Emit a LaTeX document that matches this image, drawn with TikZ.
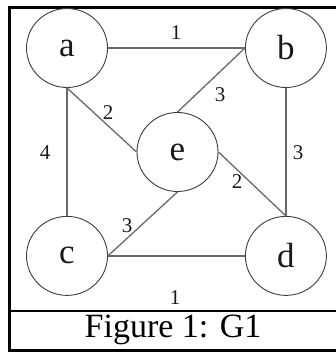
\documentclass[tikz,border=0pt]{standalone}
\usepackage{fontspec}
\setmainfont{Liberation Serif}
\usetikzlibrary{shapes.geometric, positioning}
\definecolor{ringcol}{RGB}{60, 60, 60}
\definecolor{edgecol}{RGB}{105, 105, 105}
\definecolor{textcol}{RGB}{25, 25, 25}
\tikzset{
    vertex/.style={ellipse, draw=ringcol, line width=0.9pt, minimum width=81pt, minimum height=79pt, inner sep=0pt, text=textcol, font=\fontsize{35}{40}\selectfont},
    edge/.style={draw=edgecol, line width=1.3pt},
    weight/.style={text=textcol, inner sep=0pt, font=\fontsize{21}{25}\selectfont},
    framebox/.style={draw=black, line width=2.6pt},
    captext/.style={text=black, inner sep=0pt, font=\fontsize{34}{38}\selectfont}
}

\begin{document}
\begin{tikzpicture}[x=1pt, y=1pt]

    \useasboundingbox (0,0) rectangle (335,352);

    % frame and caption
    \draw [framebox] (336,344.5) -- (9.5,344.5) -- (9.5,1.5) -- (336,1.5);
    \draw [framebox] (9.5,41) -- (336,41);
    \node (caption) [captext] at (173,22) {Figure 1: G1};

    % vertices
    \node (a) [vertex] at (67,304) {a};
    \node (b) [vertex, right=137pt of a] {b};
    \node (c) [vertex, below=128pt of a] {c};
    \node (d) [vertex, right=137pt of c] {d};
    \node (e) [vertex] at (177.5,200) {e};

    % edges
    \draw [edge] (a.east) -- (b.west);
    \draw [edge] (c.east) -- (d.west);
    \draw [edge] (a.south) -- (c.north);
    \draw [edge] (b.south) -- (d.north);
    \draw [edge] (a.south) -- (e.west);
    \draw [edge] (b.west) -- (e.north);
    \draw [edge] (e.east) -- (d.north);
    \draw [edge] (c.east) -- (e.south);

    % weights
    \node (w_ab) [weight] at (176,319) {1};
    \node (w_ae) [weight] at (108,239) {2};
    \node (w_be) [weight] at (220,257) {3};
    \node (w_ac) [weight] at (45,199) {4};
    \node (w_bd) [weight] at (298,199) {3};
    \node (w_ed) [weight] at (237,170) {2};
    \node (w_ce) [weight] at (127,126) {3};
    \node (w_cd) [weight] at (175,54) {1};

\end{tikzpicture}
\end{document}
